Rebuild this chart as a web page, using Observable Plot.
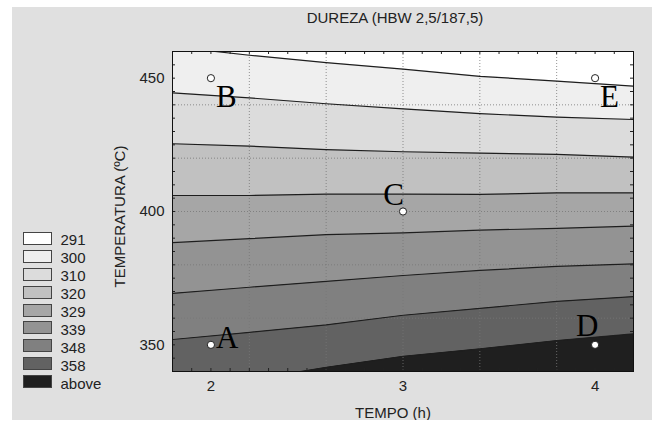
<!DOCTYPE html>
<html>
<head>
<meta charset="utf-8">
<script src="https://cdn.jsdelivr.net/npm/d3@7"></script>
<script src="https://cdn.jsdelivr.net/npm/@observablehq/plot@0.6"></script>
<style>
  body { margin: 0; background: #ffffff; font-family: "Liberation Sans", Arial, sans-serif; }
  #panel { position: absolute; left: 12px; top: 7px; width: 640px; height: 413px; background: #e0e0e0; overflow: hidden; }
  #chart { position: absolute; left: 0; top: 0; }
  #title { position: absolute; left: 383px; top: 2px; transform: translateX(-50%); white-space: nowrap; font-size: 15px; color: #222; }
  #legend { position: absolute; left: 11px; top: 222.5px; }
  .item { display: flex; align-items: center; height: 17.9px; }
  .sw { width: 27px; height: 11px; border: 1px solid #444; margin-right: 8.5px; box-sizing: content-box; }
  .lab { font-size: 15px; color: #222; position: relative; top: 1.5px; }
</style>
</head>
<body>
<div id="panel">
  <div id="chart"></div>
  <div id="title">DUREZA (HBW 2,5/187,5)</div>
  <div id="legend"></div>
</div>
<script>
// ---- data ----
const times = [1.8, 2.2, 2.6, 3.0, 3.4, 3.8, 4.2];           // TEMPO (h) sample positions
const levels = ["291", "300", "310", "320", "329", "339", "348", "358", "above"];
const bandColors = ["#ffffff", "#efefef", "#dcdcdc", "#c1c1c1", "#a6a6a6", "#939393", "#808080", "#626262", "#1f1f1f"];
// contour boundaries (TEMPERATURA ºC) at each time
const contour291 = [461.8, 458.6, 455.8, 453.4, 450.7, 448.9, 447.0];
const contour300 = [444.5, 442.6, 440.4, 438.5, 436.7, 435.4, 434.5];
const contour310 = [425.4, 424.5, 423.2, 422.4, 421.9, 421.4, 420.4];
const contour320 = [406.0, 406.0, 406.5, 406.5, 406.4, 407.0, 407.0];
const contour329 = [388.3, 389.8, 391.3, 392.0, 393.0, 393.7, 394.5];
const contour339 = [369.3, 371.6, 373.8, 376.0, 377.9, 379.4, 380.4];
const contour348 = [352.0, 354.7, 357.5, 361.1, 363.7, 366.3, 368.1];
const contour358 = [332.0, 336.8, 341.6, 345.7, 348.5, 351.6, 354.1];
const timeDomain = [1.8, 4.2];
const tempDomain = [340, 460];
const timeTicks = [2, 3, 4];
const tempTicks = [350, 400, 450];
const timeGrid = [2.2, 2.6, 3.0, 3.4, 3.8];
const tempGrid = [360, 380, 400, 420, 440];
const timeMinor = [1.9, 2.0, 2.1, 2.2, 2.3, 2.4, 2.5, 2.6, 2.7, 2.8, 2.9, 3.0, 3.1, 3.2, 3.3, 3.4, 3.5, 3.6, 3.7, 3.8, 3.9, 4.0, 4.1];
const tempMinor = [345, 350, 355, 360, 365, 370, 375, 380, 385, 390, 395, 400, 405, 410, 415, 420, 425, 430, 435, 440, 445, 450, 455];
const pointNames = ["A", "B", "C", "D", "E"];
const pointTimes = [2, 2, 3, 4, 4];
const pointTemps = [350, 450, 400, 350, 450];

// ---- tables built from the arrays ----
const contours = [contour291, contour300, contour310, contour320, contour329, contour339, contour348, contour358];
const bands = levels.flatMap((level, k) => times.map((time, i) => ({
  time, level,
  hi: k === 0 ? tempDomain[1] : contours[k - 1][i],
  lo: k === contours.length ? tempDomain[0] : contours[k][i]
})));
const lines = contours.flatMap((c, k) => times.map((time, i) => ({time, temp: c[i], level: levels[k]})));
const points = pointNames.map((name, i) => ({name, time: pointTimes[i], temp: pointTemps[i]}));
const byName = (n) => points.filter(d => n.includes(d.name));

const W = 640, H = 413, mL = 160, mR = 19, mT = 44, mB = 49;
const plotW = W - mL - mR, plotH = H - mT - mB;
const serif = "'Liberation Serif', 'Times New Roman', serif";

const chart = Plot.plot({
  width: W, height: H,
  marginLeft: mL, marginRight: mR, marginTop: mT, marginBottom: mB,
  style: {background: "transparent", fontFamily: "'Liberation Sans', Arial, sans-serif", fontSize: "15px", color: "#222", overflow: "visible"},
  x: {domain: timeDomain},
  y: {domain: tempDomain},
  color: {domain: levels, range: bandColors},
  marks: [
    Plot.areaY(bands, {x: "time", y1: "lo", y2: "hi", z: "level", fill: "level", clip: true}),
    Plot.ruleX(timeGrid, {x: d => d, stroke: "#777", strokeOpacity: 0.8, strokeDasharray: "1,2"}),
    Plot.ruleY(tempGrid, {y: d => d, stroke: "#777", strokeOpacity: 0.8, strokeDasharray: "1,2"}),
    Plot.line(lines, {x: "time", y: "temp", z: "level", stroke: "#1e1e1e", strokeWidth: 1.2, clip: true}),
    Plot.tickX(timeMinor, {x: d => d, insetTop: plotH - 3, stroke: "#222"}),
    Plot.tickX(timeMinor, {x: d => d, insetBottom: plotH - 3, stroke: "#222"}),
    Plot.tickY(tempMinor, {y: d => d, insetRight: plotW - 3, stroke: "#222"}),
    Plot.tickY(tempMinor, {y: d => d, insetLeft: plotW - 3, stroke: "#222"}),
    Plot.frame({stroke: "#111"}),
    Plot.axisX(timeTicks, {tickSize: 0, tickPadding: 9, label: null, tickFormat: d => String(d)}),
    Plot.axisY(tempTicks, {tickSize: 0, tickPadding: 8, label: null, tickFormat: d => String(d)}),
    Plot.dot(points, {x: "time", y: "temp", r: 3.6, fill: "white", stroke: "#222", strokeWidth: 1}),
    Plot.text(byName(["A"]), {x: "time", y: "temp", text: "name", textAnchor: "start", lineAnchor: "bottom", dx: 5, dy: 3, fontFamily: serif, fontSize: 31, fill: "#000"}),
    Plot.text(byName(["B", "E"]), {x: "time", y: "temp", text: "name", textAnchor: "start", lineAnchor: "bottom", dx: 5, dy: 29, fontFamily: serif, fontSize: 31, fill: "#000"}),
    Plot.text(byName(["C"]), {x: "time", y: "temp", text: "name", textAnchor: "end", lineAnchor: "bottom", dx: 1, dy: -7, fontFamily: serif, fontSize: 31, fill: "#000"}),
    Plot.text(byName(["D"]), {x: "time", y: "temp", text: "name", textAnchor: "middle", lineAnchor: "bottom", dx: -8, dy: -8.5, fontFamily: serif, fontSize: 31, fill: "#000"}),
    Plot.text(["TEMPO (h)"], {text: d => d, frameAnchor: "bottom", textAnchor: "middle", lineAnchor: "top", dx: -10, dy: 36, fill: "#222"}),
    Plot.text(["TEMPERATURA (ºC)"], {text: d => d, frameAnchor: "left", textAnchor: "middle", rotate: -90, lineAnchor: "middle", dx: -52, dy: 5, fill: "#222"})
  ]
});
document.getElementById("chart").appendChild(chart);

// legend built from the same arrays
const legend = document.getElementById("legend");
levels.forEach((level, k) => {
  const item = document.createElement("div");
  item.className = "item";
  const sw = document.createElement("div");
  sw.className = "sw";
  sw.style.background = bandColors[k];
  const lab = document.createElement("span");
  lab.className = "lab";
  lab.textContent = level;
  item.appendChild(sw);
  item.appendChild(lab);
  legend.appendChild(item);
});
</script>
</body>
</html>
